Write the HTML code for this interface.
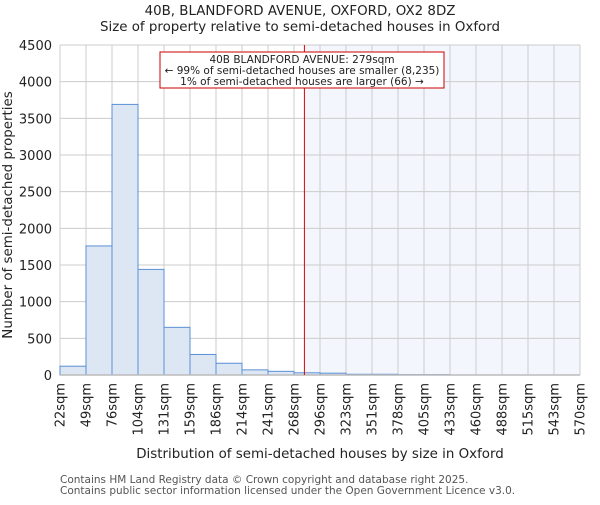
<!DOCTYPE html>
<html><head><meta charset="utf-8"><style>body{margin:0;background:#fff}svg text{font-family:"DejaVu Sans",sans-serif;fill:#222}</style></head>
<body>
<svg id="c" width="600" height="500"></svg>
<script>
const labels=["22sqm","49sqm","76sqm","104sqm","131sqm","159sqm","186sqm","214sqm","241sqm","268sqm","296sqm","323sqm","351sqm","378sqm","405sqm","433sqm","460sqm","488sqm","515sqm","543sqm","570sqm"];
const values=[120,1760,3690,1440,650,280,160,70,50,30,25,10,10,5,5,0,0,0,0,0];
const yTicks=[0,500,1000,1500,2000,2500,3000,3500,4000,4500];
const markerBin=9.4;
const NS="http://www.w3.org/2000/svg",s=document.getElementById('c');
const L=60,R=580,T=45,B=375,bw=(R-L)/values.length;
const x=i=>L+i*bw, y=v=>B-(v/4500)*(B-T);
function el(t,a,p){const e=document.createElementNS(NS,t);for(const k in a)e.setAttribute(k,a[k]);(p||s).appendChild(e);return e;}
function tx(t,a,str){const e=el(t,a);e.textContent=str;return e;}
const mx=x(markerBin);
let e=el('rect',{x:mx,y:T,width:R-mx,height:B-T,fill:'#f3f6fd'});


yTicks.forEach(v=>{let g=el('line',{x1:L,x2:R,y1:y(v),y2:y(v),stroke:'#ccc'});


let t=tx('text',{x:L-8,y:y(v)+5,'text-anchor':'end','font-size':13},v);

});
labels.forEach((l,i)=>{let g=el('line',{x1:x(i),x2:x(i),y1:T,y2:B,stroke:'#ccc'});


let t=tx('text',{transform:`translate(${x(i)+4.5},${B+8}) rotate(-90)`,'text-anchor':'end','font-size':13},l);

});
values.forEach((v,i)=>{if(v<=0)return;let r=el('rect',{x:x(i),y:y(v),width:bw,height:B-y(v),fill:'#dde7f4',stroke:'#5b8fd6','stroke-width':1});

});
e=el('line',{x1:L,x2:R,y1:B,y2:B,stroke:'#bbb','stroke-width':1.5});


e=el('line',{x1:mx,x2:mx,y1:T,y2:B,stroke:'#d00','stroke-width':1});


e=el('rect',{x:160,y:52,width:284,height:36,fill:'#fff',stroke:'#c00','stroke-width':1});


[["40B BLANDFORD AVENUE: 279sqm",63],["← 99% of semi-detached houses are smaller (8,235)",74],["1% of semi-detached houses are larger (66) →",85]].forEach(a=>{let t=tx('text',{x:302,y:a[1],'text-anchor':'middle','font-size':10.5},a[0]);

});
e=tx('text',{x:300,y:15,'text-anchor':'middle','font-size':13.4},"40B, BLANDFORD AVENUE, OXFORD, OX2 8DZ");


e=tx('text',{x:300,y:31,'text-anchor':'middle','font-size':13.4},"Size of property relative to semi-detached houses in Oxford");


e=tx('text',{x:320,y:458,'text-anchor':'middle','font-size':13.4},"Distribution of semi-detached houses by size in Oxford");


e=tx('text',{transform:'translate(12,215) rotate(-90)','text-anchor':'middle','font-size':13.4},"Number of semi-detached properties");


e=tx('text',{x:60,y:483,'font-size':10.5,style:'fill:#555'},"Contains HM Land Registry data © Crown copyright and database right 2025.");


e=tx('text',{x:60,y:494,'font-size':10.5,style:'fill:#555'},"Contains public sector information licensed under the Open Government Licence v3.0.");


</script>
</body></html>
